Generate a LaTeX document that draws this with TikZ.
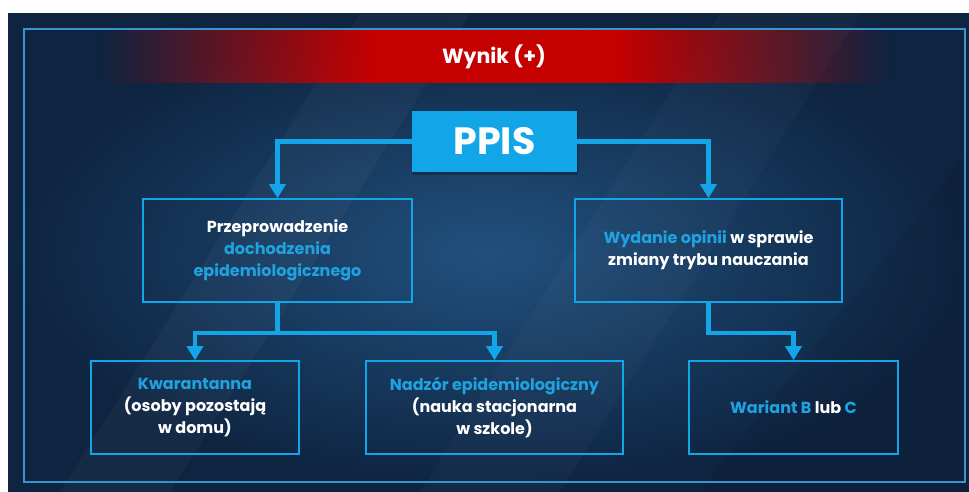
\documentclass[tikz,border=0pt]{standalone}
\usepackage{fontspec}
\setmainfont{Poppins}
\usetikzlibrary{arrows.meta,fadings,shadows,calc}
\definecolor{bgc}{HTML}{21507E}
\definecolor{bge}{HTML}{0E2440}
\definecolor{cy}{HTML}{12A6E8}
\definecolor{cyt}{HTML}{1FA3E0}
\definecolor{framec}{HTML}{3A95CE}
\definecolor{bred}{HTML}{C40000}
\tikzfading[name=fadein, left color=transparent!100, right color=transparent!0]
\tikzfading[name=fadeout, left color=transparent!0, right color=transparent!100]
\begin{document}
\begin{tikzpicture}[x=1pt,y=-1pt,
  box/.style={draw=cy, line width=1.6pt, align=center, text=white, inner sep=0pt,
    font=\bfseries\fontsize{16}{22}\selectfont},
  conn/.style={draw=cy, line width=4.3pt},
  arr/.style={-{Triangle[width=16pt,length=14pt]}}]
\useasboundingbox (0,0) rectangle (969,492);
\fill[white] (0,0) rectangle (969,492);
\shade[shading=radial, inner color=bgc, outer color=bge] (8,14) rectangle (969,492);
\begin{scope}
\clip (8,14) rectangle (969,492);
\fill[white, opacity=0.03] (60,492) -- (170,492) -- (470,14) -- (360,14) -- cycle;
\fill[white, opacity=0.025] (420,492) -- (560,492) -- (860,14) -- (720,14) -- cycle;
\fill[black, opacity=0.06] (700,492) -- (969,492) -- (969,150) -- cycle;
\end{scope}
% banner
\fill[bred, path fading=fadein] (100,29) rectangle (371,83);
\fill[bred] (370,29) rectangle (620,83);
\fill[bred, path fading=fadeout] (619,29) rectangle (890,83);
\draw[framec, line width=1.2pt] (24,29) rectangle (965,482);
\node[text=white, font=\bfseries\fontsize{20.5}{20.5}\selectfont] (title) at (494,57) {Wynik (+)};
% nodes
\node[fill=cy, minimum width=165pt, minimum height=61pt, inner sep=0pt,
  drop shadow={opacity=0.25, shadow xshift=1pt, shadow yshift=-3pt, fill=black},
  text=white, font=\bfseries\fontsize{38}{38}\selectfont] (ppis) at (494.5,141.5) {PPIS};
\node[box, minimum width=269pt, minimum height=103pt] (inv) at (277.5,250.5)
  {Przeprowadzenie\\ \textcolor{cyt}{dochodzenia}\\ \textcolor{cyt}{epidemiologicznego}};
\node[box, minimum width=267pt, minimum height=103pt] (opi) at (708.5,250.5)
  {\textcolor{cyt}{Wydanie opinii} w sprawie\\ zmiany trybu nauczania};
\node[box, minimum width=208pt, minimum height=93pt] (kw) at (195,407.5)
  {\textcolor{cyt}{Kwarantanna}\\ (osoby pozostają\\ w domu)};
\node[box, minimum width=257pt, minimum height=93pt] (nad) at (494.5,407.5)
  {\textcolor{cyt}{Nadzór epidemiologiczny}\\ (nauka stacjonarna\\ w szkole)};
\node[box, minimum width=209pt, minimum height=93pt] (war) at (793.5,407.5)
  {\textcolor{cyt}{Wariant B} lub \textcolor{cyt}{C}};
% connectors
\draw[conn, arr] (ppis.west) -| (inv.north);
\draw[conn, arr] (ppis.east) -| (opi.north);
\coordinate (j1) at ($(inv.south)+(0,30)$);
\coordinate (j2) at ($(opi.south)+(0,30)$);
\draw[conn] (inv.south) -- (j1);
\draw[conn, arr] (j1) -| (kw.north);
\draw[conn, arr] (j1) -| (nad.north);
\draw[conn, arr] (opi.south) -- (j2) -| (war.north);
\end{tikzpicture}
\end{document}
